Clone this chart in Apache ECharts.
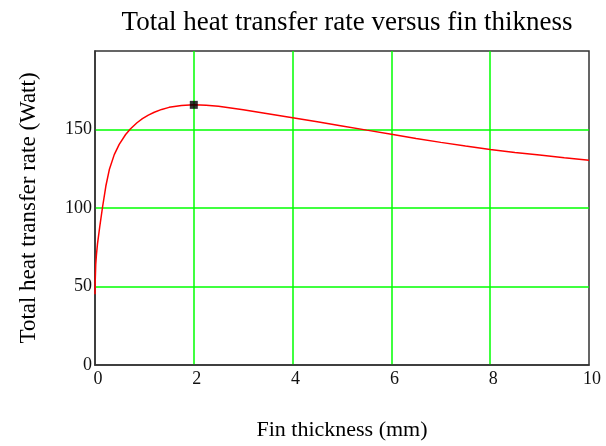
<!DOCTYPE html>
<html>
<head>
<meta charset="utf-8">
<script src="https://cdn.jsdelivr.net/npm/echarts@6/dist/echarts.min.js"></script>
<style>html,body{margin:0;padding:0;background:#fff;}#c{width:606px;height:446px;}</style>
</head>
<body>
<div id="c"></div>
<script>
const thickness = [0, 0.005, 0.015, 0.03, 0.05, 0.1, 0.15, 0.22, 0.29, 0.39, 0.49, 0.62, 0.72, 0.85, 0.96, 1.08, 1.2, 1.35, 1.5, 1.75, 2.0, 2.25, 2.5, 3.0, 3.5, 4.0, 4.5, 5.0, 5.5, 6.0, 6.5, 7.0, 7.5, 8.0, 8.5, 9.0, 9.5, 10.0];
const heatRate = [45, 54, 64, 70.5, 77, 89, 100, 114, 124.5, 134, 140.5, 146.8, 150.5, 154.3, 156.9, 159.2, 161.0, 162.8, 164.1, 165.3, 165.7, 165.5, 164.8, 162.6, 160.1, 157.5, 154.9, 152.3, 149.6, 147.0, 144.3, 141.8, 139.5, 137.3, 135.4, 133.7, 132.0, 130.4];
const optimum = [[2.0, 165.7]];
const xTicks = [0, 2, 4, 6, 8, 10];
const yTicks = [0, 50, 100, 150];

const chart = echarts.init(document.getElementById('c'), null, {renderer: 'canvas'});
const serif = 'Liberation Serif';
chart.setOption({
  animation: false,
  backgroundColor: '#fff',
  title: {
    text: 'Total heat transfer rate versus fin thikness',
    left: 342, top: 4, textAlign: 'center',
    textStyle: {fontFamily: serif, fontSize: 27, fontWeight: 'normal', color: '#000'}
  },
  grid: {left: 95, top: 51, right: 17, bottom: 79, show: true, borderColor: '#333', borderWidth: 1.5},
  xAxis: {
    type: 'value', min: 0, max: 10, interval: 2,
    name: 'Fin thickness (mm)', nameLocation: 'middle', nameGap: 54,
    nameTextStyle: {fontFamily: serif, fontSize: 22, color: '#000'},
    axisLine: {show: true, onZero: false, lineStyle: {color: '#333', width: 1.5}},
    axisTick: {show: false},
    axisLabel: {fontFamily: serif, fontSize: 18, color: '#111', margin: 5, padding: [0, 0, 0, 6],
      formatter: v => xTicks.includes(v) ? String(v) : ''},
    splitLine: {show: true, showMinLine: false, showMaxLine: false, lineStyle: {color: '#00ff00', width: 1.5}}
  },
  yAxis: {
    type: 'value', min: 0, max: 200, interval: 50,
    name: 'Total heat transfer rate (Watt)', nameLocation: 'middle', nameGap: 55,
    nameTextStyle: {fontFamily: serif, fontSize: 23, color: '#000'},
    axisLine: {show: true, lineStyle: {color: '#333', width: 1.5}},
    axisTick: {show: false},
    axisLabel: {fontFamily: serif, fontSize: 18, color: '#111', margin: 3,
      formatter: v => yTicks.includes(v) ? String(v) : ''},
    splitLine: {show: true, showMinLine: false, showMaxLine: false, lineStyle: {color: '#00ff00', width: 1.5}}
  },
  series: [
    {type: 'line', data: thickness.map((x, i) => [x, heatRate[i]]), showSymbol: false,
     smooth: false,
     lineStyle: {color: '#ff0000', width: 1.5}, z: 3},
    {type: 'scatter', data: optimum, symbol: 'rect', symbolSize: 8,
     itemStyle: {color: '#000'}, z: 4}
  ]
});
</script>
</body>
</html>
